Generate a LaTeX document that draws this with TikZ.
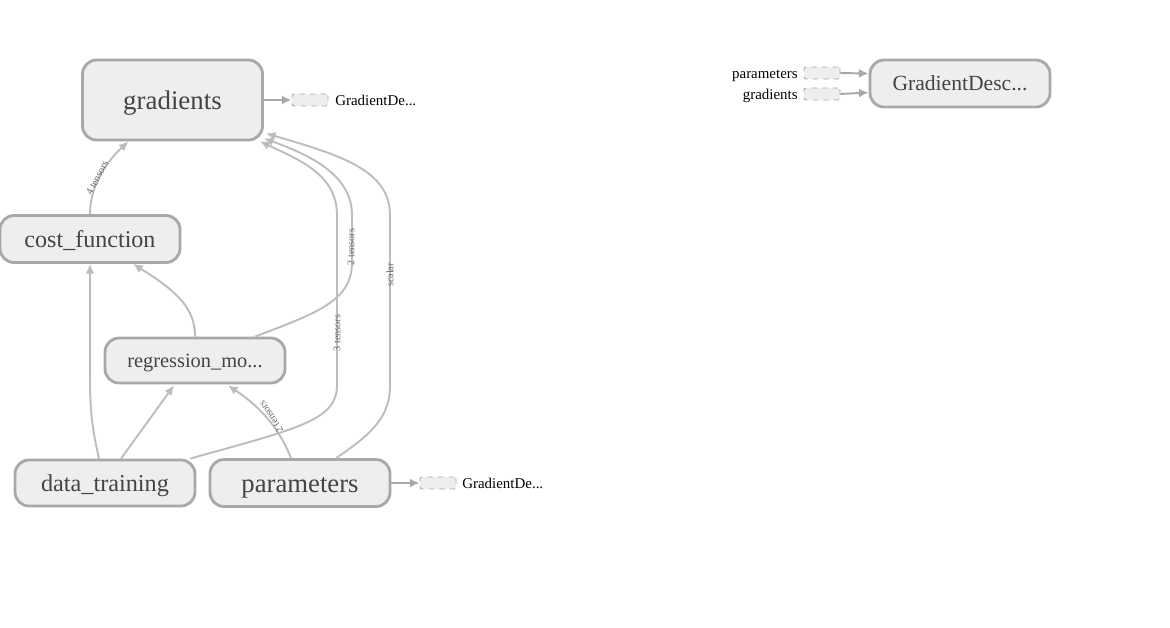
\documentclass[tikz,border=0pt]{standalone}
\usepackage{fontspec}
\setmainfont{Liberation Serif}
\usetikzlibrary{positioning}
\usetikzlibrary{arrows.meta}
\usetikzlibrary{calc}
\definecolor{boxfill}{HTML}{EEEEEE}
\definecolor{boxline}{HTML}{A8A8A8}
\definecolor{edgeline}{HTML}{BDBDBD}
\definecolor{nodetext}{HTML}{444444}
\definecolor{labeltext}{HTML}{666666}
\tikzset{
    opnode/.style = {rectangle, rounded corners=0.28cm, draw=boxline, line width=1.6pt, fill=boxfill, text=nodetext, minimum width=3.6cm, minimum height=0.94cm, inner sep=0},
    bignode/.style = {opnode, minimum height=1.6cm},
    fsz/.style = {font=\fontsize{#1}{#1}\selectfont, text height={0.69*#1pt}, text depth=0pt},
    stubnode/.style = {rectangle, rounded corners=1.2pt, draw=boxline, dashed, line width=0.5pt, fill=boxfill, minimum width=0.72cm, minimum height=0.24cm, inner sep=0},
    stubtext/.style = {font=\fontsize{8.5}{10}\selectfont, inner sep=0},
    edgen/.style = {-{Latex[length=5.5pt,width=5pt]}, draw=edgeline, line width=1.1pt},
    stubedge/.style = {-{Latex[length=5.5pt,width=5pt]}, draw=boxline, line width=1.1pt},
    elabel/.style = {font=\fontsize{5.8}{6}\selectfont, text=labeltext, inner sep=0.5pt}
}
\begin{document}
\begin{tikzpicture}[x=0.02cm, y=-0.02cm]
\useasboundingbox (0,0) rectangle (1170,627);

% main graph
\node[bignode, fsz=15.3] at (172.5,100) (grad) {gradients};
\node[opnode, fsz=13.7] at (90,239) (cost) {cost\_function};
\node[opnode, minimum height=0.9cm, fsz=11.6] at (195,360.5) (regr) {regression\_mo...};
\node[opnode, minimum height=0.92cm, fsz=13.8] at (105,483) (dtrain) {data\_training};
\node[opnode, fsz=15.2] at (300,483) (params) {parameters};

% outputs to the optimizer
\node[stubnode] at (310,100) (gstub) {};
\node[stubtext, anchor=west] at (335,100) (gstubl) {GradientDe...};
\node[stubnode] at (438,483) (pstub) {};
\node[stubtext, anchor=west] at (462,483) (pstubl) {GradientDe...};
\draw[stubedge] (grad.east) -- (gstub.west);
\draw[stubedge] (params.east) -- (pstub.west);

% optimizer
\node[opnode, fsz=12.3] at (960,83.5) (gdesc) {GradientDesc...};
\node[stubnode] at (822,73) (inp) {};
\node[stubnode] at (822,94) (ing) {};
\node[stubtext, anchor=east, fsz=8.5] at (798,73) (inpl) {parameters};
\node[stubtext, anchor=east, fsz=8.5] at (798,94) (ingl) {gradients};
\draw[stubedge] (inp.east) -- ($(gdesc.west)+(0,-10)$);
\draw[stubedge] (ing.east) -- ($(gdesc.west)+(0,9)$);

% data flow
\draw[edgen] (cost.north) .. controls (90,190) and (102,166) .. ($(grad.south)+(-44,0)$);
\node[elabel, rotate=62] at (97,178) (l4) {4 tensors};
\draw[edgen] ($(dtrain.north)+(-6,0)$) .. controls (90,420) and (90,400) .. (90,370) -- (cost.south);
\draw[edgen] (regr.north) .. controls (195,310) and (180,293) .. ($(cost.south)+(43,0)$);
\draw[edgen] ($(dtrain.north)+(16,0)$) -- ($(regr.south)+(-21,1)$);
\draw[edgen] ($(params.north)+(-9,0)$) .. controls (280,430) and (262,408) .. ($(regr.south)+(33,1)$);
\node[elabel, rotate=123] at (271,417) (l2b) {2 tensors};
\draw[edgen] ($(regr.north)+(60,0)$) .. controls (320,312) and (352,300) .. (352,262) -- (352,215) .. controls (352,175) and (310,155) .. ($(grad.south east)+(0,-3)$);
\node[elabel, rotate=90] at (351,247) (l2a) {2 tensors};
\draw[edgen] ($(dtrain.north)+(85,0)$) .. controls (300,428) and (337,420) .. (337,385) -- (337,215) .. controls (337,175) and (300,160) .. ($(grad.south east)+(-4,0)$);
\node[elabel, rotate=90] at (337,333) (l3) {3 tensors};
\draw[edgen] ($(params.north)+(36,0)$) .. controls (375,432) and (390,415) .. (390,385) -- (390,215) .. controls (390,170) and (340,155) .. ($(grad.south east)+(2,-8)$);
\node[elabel, rotate=90] at (390,275) (ls) {scalar};

\end{tikzpicture}
\end{document}
